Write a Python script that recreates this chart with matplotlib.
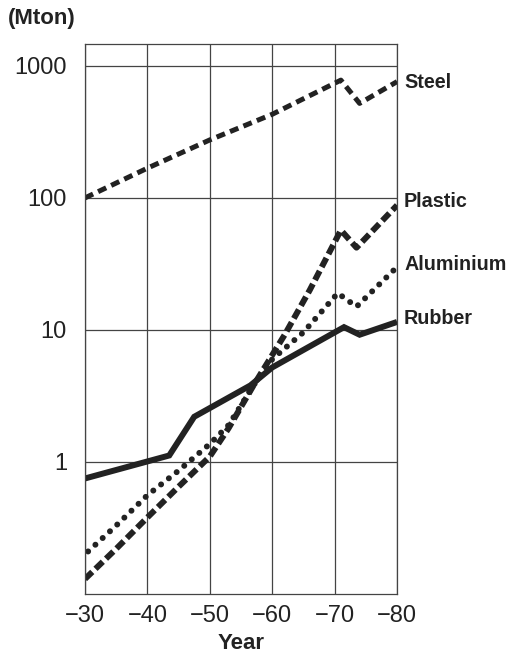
import matplotlib
matplotlib.use("Agg")
import matplotlib.pyplot as plt

plt.rcParams['font.family'] = ['Liberation Sans', 'DejaVu Sans']

# production per year, million tons (log scale)
steel_x = [30, 40, 50, 60, 71, 74, 80]
steel_y = [100, 168, 275, 430, 780, 520, 760]

plastic_x = [30, 35, 40, 45, 50, 53, 57, 62, 66, 71, 73.5, 80]
plastic_y = [0.13, 0.22, 0.38, 0.65, 1.1, 1.8, 3.8, 9.2, 20, 57, 42, 88]

alu_x = [30.5, 35, 40, 45, 50, 53, 57, 60, 65, 70.5, 73.5, 80]
alu_y = [0.21, 0.33, 0.56, 0.86, 1.37, 1.9, 3.8, 6.0, 9.6, 19, 15, 30]

rubber_x = [30, 43.5, 47.5, 56.5, 60, 71.5, 74, 80]
rubber_y = [0.75, 1.12, 2.2, 3.8, 5.2, 10.5, 9.2, 11.5]

years = [30, 40, 50, 60, 70, 80]
year_labels = ["\u221230", "\u221240", "\u221250", "\u221260", "\u221270", "\u221280"]
yticks = [1, 10, 100, 1000]
ytick_labels = ["1", "10", "100", "1000"]

ink = "#222222"

fig = plt.figure(figsize=(5.15, 6.56), dpi=100)
ax = fig.add_axes([0.165, 0.0945, 0.606, 0.8385])

ax.plot(steel_x, steel_y, color=ink, lw=3.6, dashes=(1.8, 1.1), dash_capstyle='butt')
ax.plot(plastic_x, plastic_y, color=ink, lw=4.3, dashes=(1.7, 0.75), dash_capstyle='butt')
ax.plot(alu_x, alu_y, color=ink, lw=4.3, dashes=(0.01, 1.65), dash_capstyle='round')
ax.plot(rubber_x, rubber_y, color=ink, lw=4.3, solid_capstyle='butt', solid_joinstyle='miter')

ax.set_yscale('log')
ax.set_xlim(30, 80)
ax.set_ylim(0.1, 1466)
ax.set_xticks(years)
ax.set_xticklabels(year_labels)
ax.set_yticks(yticks)
ax.set_yticklabels(ytick_labels)
ax.minorticks_off()
ax.tick_params(length=0, labelsize=17, colors=ink)
ax.tick_params(axis='y', pad=13)
ax.tick_params(axis='x', pad=8)
ax.grid(True, color="#444444", lw=0.9)
for s in ax.spines.values():
    s.set_color("#444444")
    s.set_linewidth(0.9)

# series names at the right end of each line
names = ["Steel", "Plastic", "Aluminium", "Rubber"]
ends = [steel_y[-1], plastic_y[-1], alu_y[-1], rubber_y[-1]]
for name, yv, dy in zip(names, ends, [-0.5, 2.5, 2, 2.5]):
    ax.annotate(name, xy=(80, yv), xytext=(5, dy), textcoords='offset points',
                va='center', ha='left', fontsize=14.2, fontweight='bold', color=ink,
                annotation_clip=False)

ax.set_xlabel("Year", fontsize=16, fontweight='bold', color=ink, labelpad=4)
fig.text(0.015, 0.972, "(Mton)", fontsize=16, fontweight='bold', color=ink, va='center')

fig.savefig("out.png", dpi=100)
